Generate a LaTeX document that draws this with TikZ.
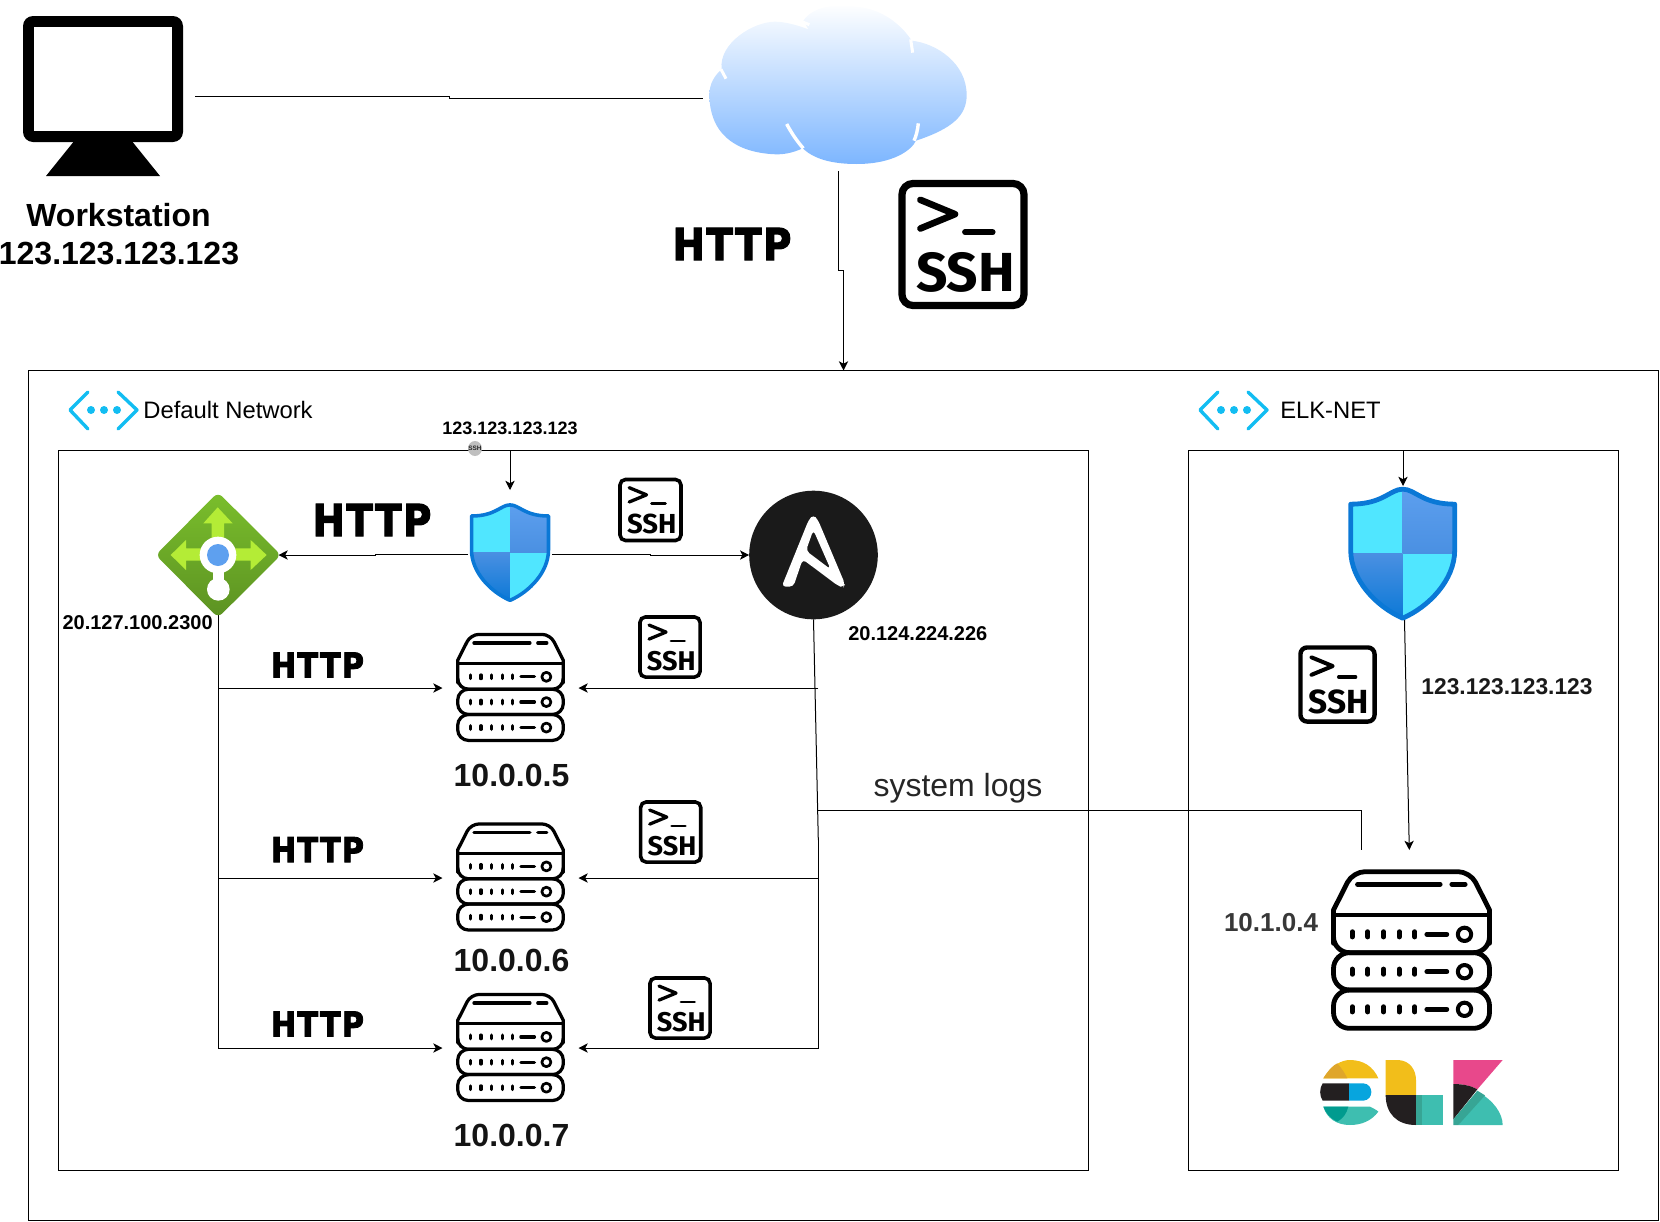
\documentclass[tikz,border=0pt]{standalone}
\usepackage{fontspec}
\setmainfont{Liberation Sans}
\newfontfamily\httpfont{DejaVu Sans}[LetterSpace=4,BoldFeatures={FakeBold=2.5}]
\newfontfamily\sshfont{Fira Sans}
\usetikzlibrary{arrows.meta}
\newcommand{\pxf}[1]{\fontsize{#1pt}{#1pt}\selectfont}
\definecolor{vnetc}{HTML}{12BDF2}
\definecolor{fwcy}{HTML}{50E6FF}
\definecolor{fwbd}{HTML}{0A78D6}
\definecolor{fwtop}{RGB}{94,160,239}
\definecolor{fwmid}{RGB}{74,144,226}
\definecolor{elkte}{HTML}{3EBEB0}
\definecolor{elkdt}{HTML}{019B8F}
\definecolor{elkov}{RGB}{55,165,149}
\definecolor{elkye}{HTML}{F2BE1A}
\definecolor{elkgo}{RGB}{223,166,43}
\definecolor{elkbl}{RGB}{7,165,222}
\definecolor{elkpk}{RGB}{232,72,139}
\definecolor{elkbk}{HTML}{231F20}
\definecolor{cloudb}{RGB}{125,182,255}
\definecolor{ansbk}{RGB}{26,26,26}
\definecolor{lbtop}{RGB}{122,190,44}
\definecolor{lbbot}{RGB}{92,146,34}
\definecolor{lbarr}{RGB}{180,236,54}
\tikzset{
  pxbox/.style 2 args={inner sep=0pt,outer sep=0pt,minimum width=#1*0.5pt,minimum height=#2*0.5pt},
  frame/.style 2 args={pxbox={#1}{#2},draw=black,line width=.5pt},
  ln/.style={line width=.5pt,black},
  arr/.style={ln,-{Stealth[length=4.6pt,width=4.6pt,inset=1.2pt]}},
  lab/.style={inner sep=0pt,outer sep=0pt,font=\bfseries},
  httpbig/.style={inner sep=0pt,transform shape,xscale=.88,font=\httpfont\bfseries\pxf{22}},
  httpsmall/.style={inner sep=0pt,transform shape,xscale=.88,font=\httpfont\bfseries\pxf{17.2}},
  srvip/.style={lab,font=\bfseries\pxf{16},text=black!92},
}
% SSH icon: name, centre, size in px
\newcommand{\sshicon}[3]{%
  \pgfmathsetmacro\kk{#3/130}%
  \begin{scope}[shift={#2},scale=\kk,transform shape]
    \begin{scope}[scale=1/3,shift={(-909,-734)}]
      \draw[line width=\kk*3.6pt,rounded corners=\kk*5.5pt] (726,551) rectangle (1092,917);
      \draw[line width=\kk*3.3pt,line cap=round,line join=round] (781,600) -- (885,643) -- (781,686);
      \draw[line width=\kk*2.9pt,line cap=round] (915,697) -- (998,697);
    \end{scope}
    \node[inner sep=0pt,font=\sshfont\bfseries\pxf{27.5}] (#1) at (2.5,28) {SSH};
  \end{scope}}
% server icon: centre, scale
\newcommand{\srvicon}[2]{%
  \pgfmathsetmacro\kk{#2}%
  \begin{scope}[shift={#1},scale=\kk/3,shift={(-634,-300)},line width=\kk*2.4pt,line cap=round,line join=round]
    \draw (400,280) -- (400,180) [rounded corners=\kk*6pt] -- (458,65) -- (810,65) [sharp corners] -- (868,180) -- (868,280);
    \draw (400,195) -- (868,195);
    \draw[rounded corners=\kk*8pt] (400,270) -- (400,308) -- (868,308) -- (868,270);
    \draw[rounded corners=\kk*8pt] (400,308) rectangle (868,420);
    \draw[rounded corners=\kk*8pt] (400,420) rectangle (868,535);
    \draw (472,103) -- (720,103);
    \draw (755,103) -- (795,103);
    \foreach \yy in {253,365,478}{
      \foreach \xx in {456,503,550,597,644}{\draw (\xx,\yy-8) -- (\xx,\yy+8);}
      \draw (680,\yy) -- (740,\yy);
      \draw[line width=\kk*2pt] (793,\yy) circle[radius=20];
    }
  \end{scope}}
% firewall shield: centre, scale
\newcommand{\fwicon}[2]{%
  \pgfmathsetmacro\kk{#2}%
  \begin{scope}[shift={#1},scale=\kk/3,shift={(-668,-520)}]
    \begin{scope}
      \clip (668,327) .. controls (630,327) and (610,372) .. (512,372) -- (512,510)
        .. controls (512,600) and (590,680) .. (668,714)
        .. controls (746,680) and (824,600) .. (824,510) -- (824,372)
        .. controls (726,372) and (706,327) .. (668,327) -- cycle;
      \fill[fwcy] (500,310) rectangle (668,520);
      \shade[top color=fwtop,bottom color=fwmid] (668,310) rectangle (840,520);
      \shade[top color=fwmid,bottom color=fwbd] (500,520) rectangle (668,720);
      \fill[fwcy] (668,520) rectangle (840,720);
    \end{scope}
    \draw[fwbd,line width=\kk*2.4pt,line join=round] (668,327) .. controls (630,327) and (610,372) .. (512,372) -- (512,510)
        .. controls (512,600) and (590,680) .. (668,714)
        .. controls (746,680) and (824,600) .. (824,510) -- (824,372)
        .. controls (726,372) and (706,327) .. (668,327) -- cycle;
  \end{scope}}
% vnet icon: x shift
\newcommand{\vneticon}[1]{%
  \begin{scope}[shift={(#1,0)},vnetc,line width=1.7pt,line cap=round,line join=round]
    \draw (88,392) -- (70,410) -- (88,429);
    \draw (118,392) -- (137,410) -- (118,429);
    \fill (91,410) circle[radius=4];
    \fill (104,410) circle[radius=4];
    \fill (117,410) circle[radius=4];
  \end{scope}}
\begin{document}
\begin{tikzpicture}[x=.5pt,y=-.5pt]
\useasboundingbox (0,0) rectangle (1660,1221);
% containers
\node[frame={1630}{849.5}] (net) at (843.5,795.25) {};
\node[frame={1030}{719.5}] (defnet) at (573,810.25) {};
\node[frame={430}{719.5}] (elknet) at (1403.5,810.25) {};
% invisible anchors of the icons
\node[pxbox={172}{160}] (ws) at (109,96.5) {};
\node[pxbox={270}{164}] (cloud) at (838,89) {};
\coordinate (cloudin) at (703,98);
\node[pxbox={84}{128}] (fw1) at (510,554) {};
\node[pxbox={120}{120}] (lb) at (218.5,555) {};
\node[pxbox={128.6}{128.6},circle,fill=ansbk] (ans) at (813.5,555) {};
\node[pxbox={136}{109}] (srv1) at (510.5,688) {};
\node[pxbox={136}{109}] (srv2) at (510.5,878) {};
\node[pxbox={136}{109}] (srv3) at (510.5,1048) {};
\node[pxbox={120}{134}] (fw2) at (1403,553) {};
\coordinate (fw2out) at (1404.5,620);
\node[pxbox={161}{200}] (srv4) at (1409.3,950) {};
\coordinate (busa) at (818.3,840);
\coordinate (logstart) at (818,810.5);
\coordinate (logend) at (1361.5,850);
% connectors
\draw[ln] (ws.east) -- ++(254,0) -- ++(0,1.5) -- (cloudin);
\draw[arr] (cloud.south) -- ++(0,99) -- ++(5.5,0) -- (net.north);
\draw[arr] (fw1.north |- defnet.north) -- (fw1.north);
\draw[arr] (fw1.west) -- ++(-93,0) -- ++(0,1) -- (lb.east);
\draw[arr] (fw1.east) -- ++(98,0) -- ++(0,1) -- (ans.west);
\draw[arr] (lb.south) -- (lb.south |- srv3.west) -- (srv3.west);
\draw[arr] (lb.south |- srv1.west) -- (srv1.west);
\draw[arr] (lb.south |- srv2.west) -- (srv2.west);
\draw[ln] (ans.south) -- (busa);
\draw[arr] (busa) -- (busa |- srv3.east) -- (srv3.east);
\draw[arr] (busa |- srv1.east) -- (srv1.east);
\draw[arr] (busa |- srv2.east) -- (srv2.east);
\draw[ln] (logstart) -| (logend);
\draw[arr] (fw2.north |- elknet.north) -- (fw2.north);
\draw[arr] (fw2out) -- (srv4.north);
% workstation
\fill[black,rounded corners=5pt] (23,16) rectangle (183,142);
\fill[white] (34,27) rectangle (172,131);
\fill[black] (75,140) -- (131,140) -- (160,176) -- (46,176) -- cycle;
% cloud
\begin{scope}[shift={(660,0)},scale=1/3]
  \shade[top color=white,bottom color=cloudb]
    (430,62) .. controls (465,10) and (550,14) .. (590,20)
    .. controls (680,28) and (735,90) .. (755,122)
    .. controls (830,130) and (920,190) .. (920,285)
    .. controls (920,345) and (880,385) .. (768,422)
    .. controls (755,450) and (700,492) .. (590,492)
    .. controls (510,492) and (460,475) .. (428,445)
    .. controls (395,460) and (370,463) .. (350,463)
    .. controls (250,460) and (150,420) .. (148,285)
    .. controls (148,250) and (165,225) .. (185,208)
    .. controls (175,130) and (280,65) .. (345,65)
    .. controls (380,65) and (425,80) .. (445,88) -- cycle;
  \draw[white,line width=1.5pt] (183,208) -- (198,236);
  \draw[white,line width=1.5pt] (428,66) -- (448,74);
  \draw[white,line width=1.5pt] (752,118) -- (758,158);
  \draw[white,line width=1.7pt] (380,372) .. controls (395,400) and (412,425) .. (430,445);
  \draw[white,line width=1.7pt] (775,370) .. controls (773,390) and (768,410) .. (762,422);
\end{scope}
% load balancer
\begin{scope}[shift={(140,400)},scale=1/3]
  \shade[top color=lbtop,bottom color=lbbot,rounded corners=3pt]
    (234,277) -- (423,465) -- (234,653) -- (47,465) -- cycle;
  \fill[lbarr]
    (233,322) -- (278,370) -- (252,370) -- (252,445) -- (332,445) -- (332,420) -- (380,465) -- (332,510) -- (332,482)
    -- (138,482) -- (138,510) -- (92,465) -- (138,420) -- (138,445) -- (215,445) -- (215,370) -- (190,370) -- cycle;
  \fill[white] (234,465) circle[radius=55];
  \fill[white] (218,500) rectangle (252,550);
  \fill[white] (235,568) circle[radius=34];
  \fill[fwtop] (234,465) circle[radius=33];
\end{scope}
% ansible A
\begin{scope}[shift={(730,480)},scale=1/3]
  \fill[white,even odd rule,rounded corners=2pt]
    (155,320) -- (236,120) -- (250,104) -- (264,120) -- (345,312) -- (340,322) -- (325,318) -- (218,238) -- (190,320) -- cycle
    (250,150) -- (228,212) -- (302,268) -- cycle;
\end{scope}
% elk logo
\begin{scope}[shift={(1200,850)},scale=1/3]
  \fill[elkye] (370,685) .. controls (395,645) and (425,630) .. (450,630) .. controls (490,630) and (520,650) .. (535,685) -- cycle;
  \fill[elkgo] (370,685) .. controls (385,660) and (400,645) .. (412,640) .. controls (425,655) and (435,670) .. (442,685) -- cycle;
  \fill[elkbk] (447,700) -- (368,700) .. controls (358,715) and (358,737) .. (368,752) -- (447,752) -- cycle;
  \fill[elkbl] (447,700) -- (490,700) .. controls (522,702) and (522,750) .. (490,752) -- (447,752) -- cycle;
  \fill[elkte] (370,770) -- (510,770) .. controls (520,775) and (530,780) .. (535,785) .. controls (515,812) and (485,825) .. (450,825) .. controls (410,825) and (380,805) .. (370,770) -- cycle;
  \fill[elkdt] (370,770) -- (445,770) .. controls (440,790) and (430,805) .. (412,815) .. controls (390,805) and (378,790) .. (370,770) -- cycle;
  \fill[elkye] (557,630) -- (595,630) .. controls (630,632) and (648,660) .. (648,690) -- (648,735) -- (557,735) -- cycle;
  \fill[elkbk] (557,735) -- (648,735) -- (648,825) .. controls (590,825) and (557,790) .. (557,735) -- cycle;
  \fill[elkte] (648,735) -- (730,735) -- (730,825) -- (648,825) -- cycle;
  \fill[elkov] (648,735) -- (665,735) -- (665,825) -- (648,825) -- cycle;
  \fill[elkpk] (760,630) -- (908,630) -- (832,718) .. controls (810,706) and (785,702) .. (760,702) -- cycle;
  \fill[elkbk] (760,702) .. controls (790,702) and (815,708) .. (832,718) -- (760,808) -- cycle;
  \fill[elkte] (832,725) .. controls (880,750) and (908,790) .. (908,825) -- (775,825) -- cycle;
  \fill[elkov] (760,808) -- (832,722) -- (855,736) -- (775,825) -- (760,825) -- cycle;
\end{scope}
% icons
\vneticon{0}
\vneticon{1130}
\fwicon{(510,552.5)}{.74}
\fwicon{(1402.7,553.5)}{1}
\srvicon{(510.5,687.4)}{.677}
\srvicon{(510.5,877)}{.677}
\srvicon{(510.5,1047.5)}{.677}
\srvicon{(1411.5,950)}{1}
\sshicon{sshtop}{(963,244.5)}{130}
\sshicon{sshfw}{(650.5,510)}{65}
\sshicon{sshone}{(670,647)}{64}
\sshicon{sshtwo}{(670.7,832)}{64}
\sshicon{sshthree}{(680,1008)}{64}
\sshicon{sshelk}{(1337.5,684.5)}{79}
% tiny ssh mark on the frame
\fill[black!25] (475,448.5) ellipse[x radius=7,y radius=7.5];
\node[inner sep=0pt,font=\bfseries\pxf{3.2},text=black!85] (sshmark) at (475,448.5) {SSH};
% labels
\node[lab,font=\bfseries\pxf{16}] (wsname) at (118.5,215) {Workstation};
\node[lab,font=\bfseries\pxf{16}] (wsip) at (119,254) {123.123.123.123};
\node[httpbig] (httptop) at (732,244) {HTTP};
\node[httpbig] (httpfw) at (372,520) {HTTP};
\node[httpsmall] (httpone) at (317.5,665) {HTTP};
\node[httpsmall] (httptwo) at (317.5,849.6) {HTTP};
\node[httpsmall] (httpthree) at (317.5,1024) {HTTP};
\node[inner sep=0pt,font=\pxf{11.9}] (defname) at (228,410) {Default Network};
\node[inner sep=0pt,font=\pxf{11.9}] (elkname) at (1330.5,410) {ELK-NET};
\node[lab,font=\bfseries\pxf{9}] (fwip) at (510,428.5) {123.123.123.123};
\node[lab,font=\bfseries\pxf{10}] (lbip) at (137.6,622.5) {20.127.100.2300};
\node[lab,font=\bfseries\pxf{10}] (ansip) at (917.8,634) {20.124.224.226};
\node[lab,font=\bfseries\pxf{11.4},text=black!90] (fw2ip) at (1507,686.5) {123.123.123.123};
\node[srvip] (ipone) at (511.5,775) {10.0.0.5};
\node[srvip] (iptwo) at (511.5,960) {10.0.0.6};
\node[srvip] (ipthree) at (511.5,1135) {10.0.0.7};
\node[srvip,font=\bfseries\pxf{13},text=black!78] (ipelk) at (1271,922.5) {10.1.0.4};
\node[inner sep=0pt,font=\pxf{16},text=black!85] (logs) at (958,788) {system logs};
\end{tikzpicture}
\end{document}
